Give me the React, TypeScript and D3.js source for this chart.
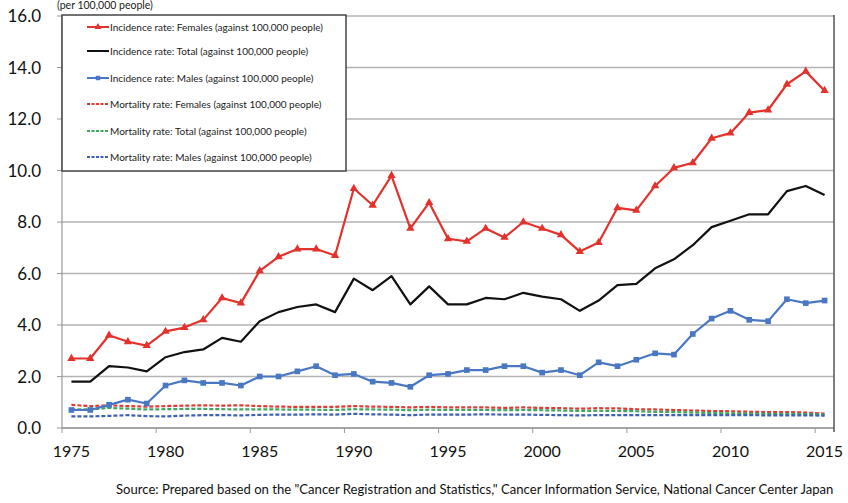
import React from 'react';
import * as d3 from 'd3';

const years = d3.range(1975, 2016);

const incFemales = [
  2.7, 2.7, 3.6, 3.35, 3.2, 3.75, 3.9, 4.2, 5.05, 4.85,
  6.1, 6.65, 6.95, 6.95, 6.7, 9.3, 8.65, 9.8, 7.75, 8.75,
  7.35, 7.25, 7.75, 7.4, 8.0, 7.75, 7.5, 6.85, 7.2, 8.55,
  8.45, 9.4, 10.1, 10.3, 11.25, 11.45, 12.25, 12.35, 13.35, 13.85, 13.1,
];
const incTotal = [
  1.8, 1.8, 2.4, 2.35, 2.2, 2.75, 2.95, 3.05, 3.5, 3.35,
  4.15, 4.5, 4.7, 4.8, 4.5, 5.8, 5.35, 5.9, 4.8, 5.5,
  4.8, 4.8, 5.05, 5.0, 5.25, 5.1, 5.0, 4.55, 4.95, 5.55,
  5.6, 6.2, 6.55, 7.1, 7.8, 8.05, 8.3, 8.3, 9.2, 9.4, 9.05,
];
const incMales = [
  0.7, 0.7, 0.9, 1.1, 0.95, 1.65, 1.85, 1.75, 1.75, 1.65,
  2.0, 2.0, 2.2, 2.4, 2.05, 2.1, 1.8, 1.75, 1.6, 2.05,
  2.1, 2.25, 2.25, 2.4, 2.4, 2.15, 2.25, 2.05, 2.55, 2.4,
  2.65, 2.9, 2.85, 3.65, 4.25, 4.55, 4.2, 4.15, 5.0, 4.85, 4.95,
];
const mortFemales = [
  0.9, 0.85, 0.88, 0.85, 0.83, 0.85, 0.87, 0.88, 0.87, 0.88,
  0.85, 0.83, 0.82, 0.82, 0.82, 0.85, 0.83, 0.82, 0.8, 0.82,
  0.8, 0.8, 0.8, 0.78, 0.8, 0.78, 0.77, 0.75, 0.77, 0.76,
  0.73, 0.72, 0.7, 0.68, 0.66, 0.65, 0.63, 0.62, 0.62, 0.6, 0.56,
];
const mortTotal = [
  0.72, 0.72, 0.78, 0.75, 0.72, 0.73, 0.74, 0.74, 0.73, 0.72,
  0.72, 0.72, 0.71, 0.71, 0.7, 0.73, 0.72, 0.71, 0.69, 0.71,
  0.7, 0.7, 0.7, 0.69, 0.7, 0.69, 0.68, 0.66, 0.67, 0.66,
  0.65, 0.63, 0.62, 0.6, 0.58, 0.57, 0.56, 0.55, 0.55, 0.54, 0.52,
];
const mortMales = [
  0.45, 0.45, 0.47, 0.5, 0.46, 0.45, 0.48, 0.5, 0.5, 0.49,
  0.51, 0.52, 0.52, 0.53, 0.52, 0.55, 0.53, 0.52, 0.5, 0.52,
  0.52, 0.52, 0.53, 0.52, 0.52, 0.51, 0.5, 0.49, 0.5, 0.5,
  0.5, 0.5, 0.5, 0.5, 0.5, 0.5, 0.5, 0.49, 0.49, 0.49, 0.48,
];

const yTicks = [0, 2, 4, 6, 8, 10, 12, 14, 16];
const xTickLabels = [1975, 1980, 1985, 1990, 1995, 2000, 2005, 2010, 2015];

type Series = {
  name: string;
  values: number[];
  color: string;
  dashed: boolean;
  marker: 'triangle' | 'square' | null;
};

const series: Series[] = [
  { name: 'Incidence rate: Females (against 100,000 people)', values: incFemales, color: '#e4312b', dashed: false, marker: 'triangle' },
  { name: 'Incidence rate: Total (against 100,000 people)', values: incTotal, color: '#111111', dashed: false, marker: null },
  { name: 'Incidence rate: Males (against 100,000 people)', values: incMales, color: '#4a77c2', dashed: false, marker: 'square' },
  { name: 'Mortality rate: Females (against 100,000 people)', values: mortFemales, color: '#e23a32', dashed: true, marker: null },
  { name: 'Mortality rate: Total (against 100,000 people)', values: mortTotal, color: '#3fa661', dashed: true, marker: null },
  { name: 'Mortality rate: Males (against 100,000 people)', values: mortMales, color: '#3d5fbd', dashed: true, marker: null },
];

const W = 848;
const H = 503;
const left = 62;
const right = 834;
const top = 16;
const bottom = 428;
const font = 'Lato, "Open Sans", sans-serif';

// mortality lines underneath, incidence lines on top
const drawOrder = [3, 4, 5, 0, 1, 2];

export default function App() {
  const x = d3.scaleBand<number>().domain(years).range([left, right]);
  const cx = (yr: number) => (x(yr) as number) + x.bandwidth() / 2;
  const y = d3.scaleLinear().domain([0, 16]).range([bottom, top]);

  const tri = d3.symbol().type(d3.symbolTriangle).size(30);
  const sq = d3.symbol().type(d3.symbolSquare).size(32);

  const boundaries = d3.range(0, years.length + 1, 5).map(i => left + i * x.bandwidth());

  const legendY = [27, 51, 78, 104, 131, 157];

  return (
    <svg width={W} height={H} style={{ position: 'absolute', left: 0, top: 0, background: '#fff' }} fontFamily={font}>
      <rect x={0} y={0} width={W} height={H} fill="#fff" />
      {/* gridlines */}
      {yTicks.map(t => (
        <line key={t} x1={left} x2={right} y1={y(t)} y2={y(t)} stroke="#b3b3b3" strokeWidth={1.6} />
      ))}
      {/* y axis */}
      <line x1={left} x2={left} y1={top} y2={bottom} stroke="#9a9a9a" strokeWidth={1.2} />
      {yTicks.map(t => (
        <g key={t}>
          <line x1={left - 5} x2={left} y1={y(t)} y2={y(t)} stroke="#9a9a9a" strokeWidth={1} />
          <text x={41} y={y(t)} dy="0.36em" textAnchor="end" fontSize={17} fill="#111">{t.toFixed(1)}</text>
        </g>
      ))}
      {/* x axis */}
      <line x1={left} x2={right} y1={bottom} y2={bottom} stroke="#9a9a9a" strokeWidth={1.4} />
      {boundaries.map((b, i) => (
        <line key={i} x1={b} x2={b} y1={bottom} y2={bottom + 5} stroke="#9a9a9a" strokeWidth={1} />
      ))}
      {xTickLabels.map(yr => (
        <text key={yr} x={cx(yr)} y={457} textAnchor="middle" fontSize={16} fill="#111">{yr}</text>
      ))}
      {/* right border */}
      <line x1={right} x2={right} y1={top - 1} y2={bottom + 4} stroke="#555" strokeWidth={1.5} />

      {/* series */}
      {drawOrder.map(i => {
        const s = series[i];
        const line = d3.line<number>()
          .x((_, j) => cx(years[j]))
          .y(v => y(v));
        return (
          <g key={s.name}>
            <path d={line(s.values) || ''} fill="none" stroke={s.color}
              strokeWidth={2.2}
              strokeDasharray={s.dashed ? '4,2' : undefined}
              strokeLinejoin="round" />
            {s.marker && s.values.map((v, j) => (
              <path key={j} d={(s.marker === 'triangle' ? tri() : sq()) || ''}
                transform={`translate(${cx(years[j])},${y(v)})`} fill={s.color} />
            ))}
          </g>
        );
      })}

      {/* unit label */}
      <text x={57} y={9} fontSize={10.5} fill="#222">(per 100,000 people)</text>

      {/* legend */}
      <rect x={62} y={15} width={284} height={156} fill="#fff" stroke="#444" strokeWidth={1.5} />
      {series.map((s, i) => {
        const ly = legendY[i];
        return (
          <g key={s.name}>
            <line x1={87} x2={109} y1={ly} y2={ly} stroke={s.color} strokeWidth={2}
              strokeDasharray={s.dashed ? '3,1.5' : undefined} />
            {s.marker && (
              <path d={(s.marker === 'triangle' ? d3.symbol().type(d3.symbolTriangle).size(20)() : d3.symbol().type(d3.symbolSquare).size(20)()) || ''}
                transform={`translate(98,${ly})`} fill={s.color} />
            )}
            <text x={110} y={ly} dy="0.35em" fontSize={10} fill="#222">{s.name}</text>
          </g>
        );
      })}

      {/* source */}
      <text x={116} y={494} fontSize={13.1} fill="#111">
        Source: Prepared based on the "Cancer Registration and Statistics," Cancer Information Service, National Cancer Center Japan
      </text>
    </svg>
  );
}
